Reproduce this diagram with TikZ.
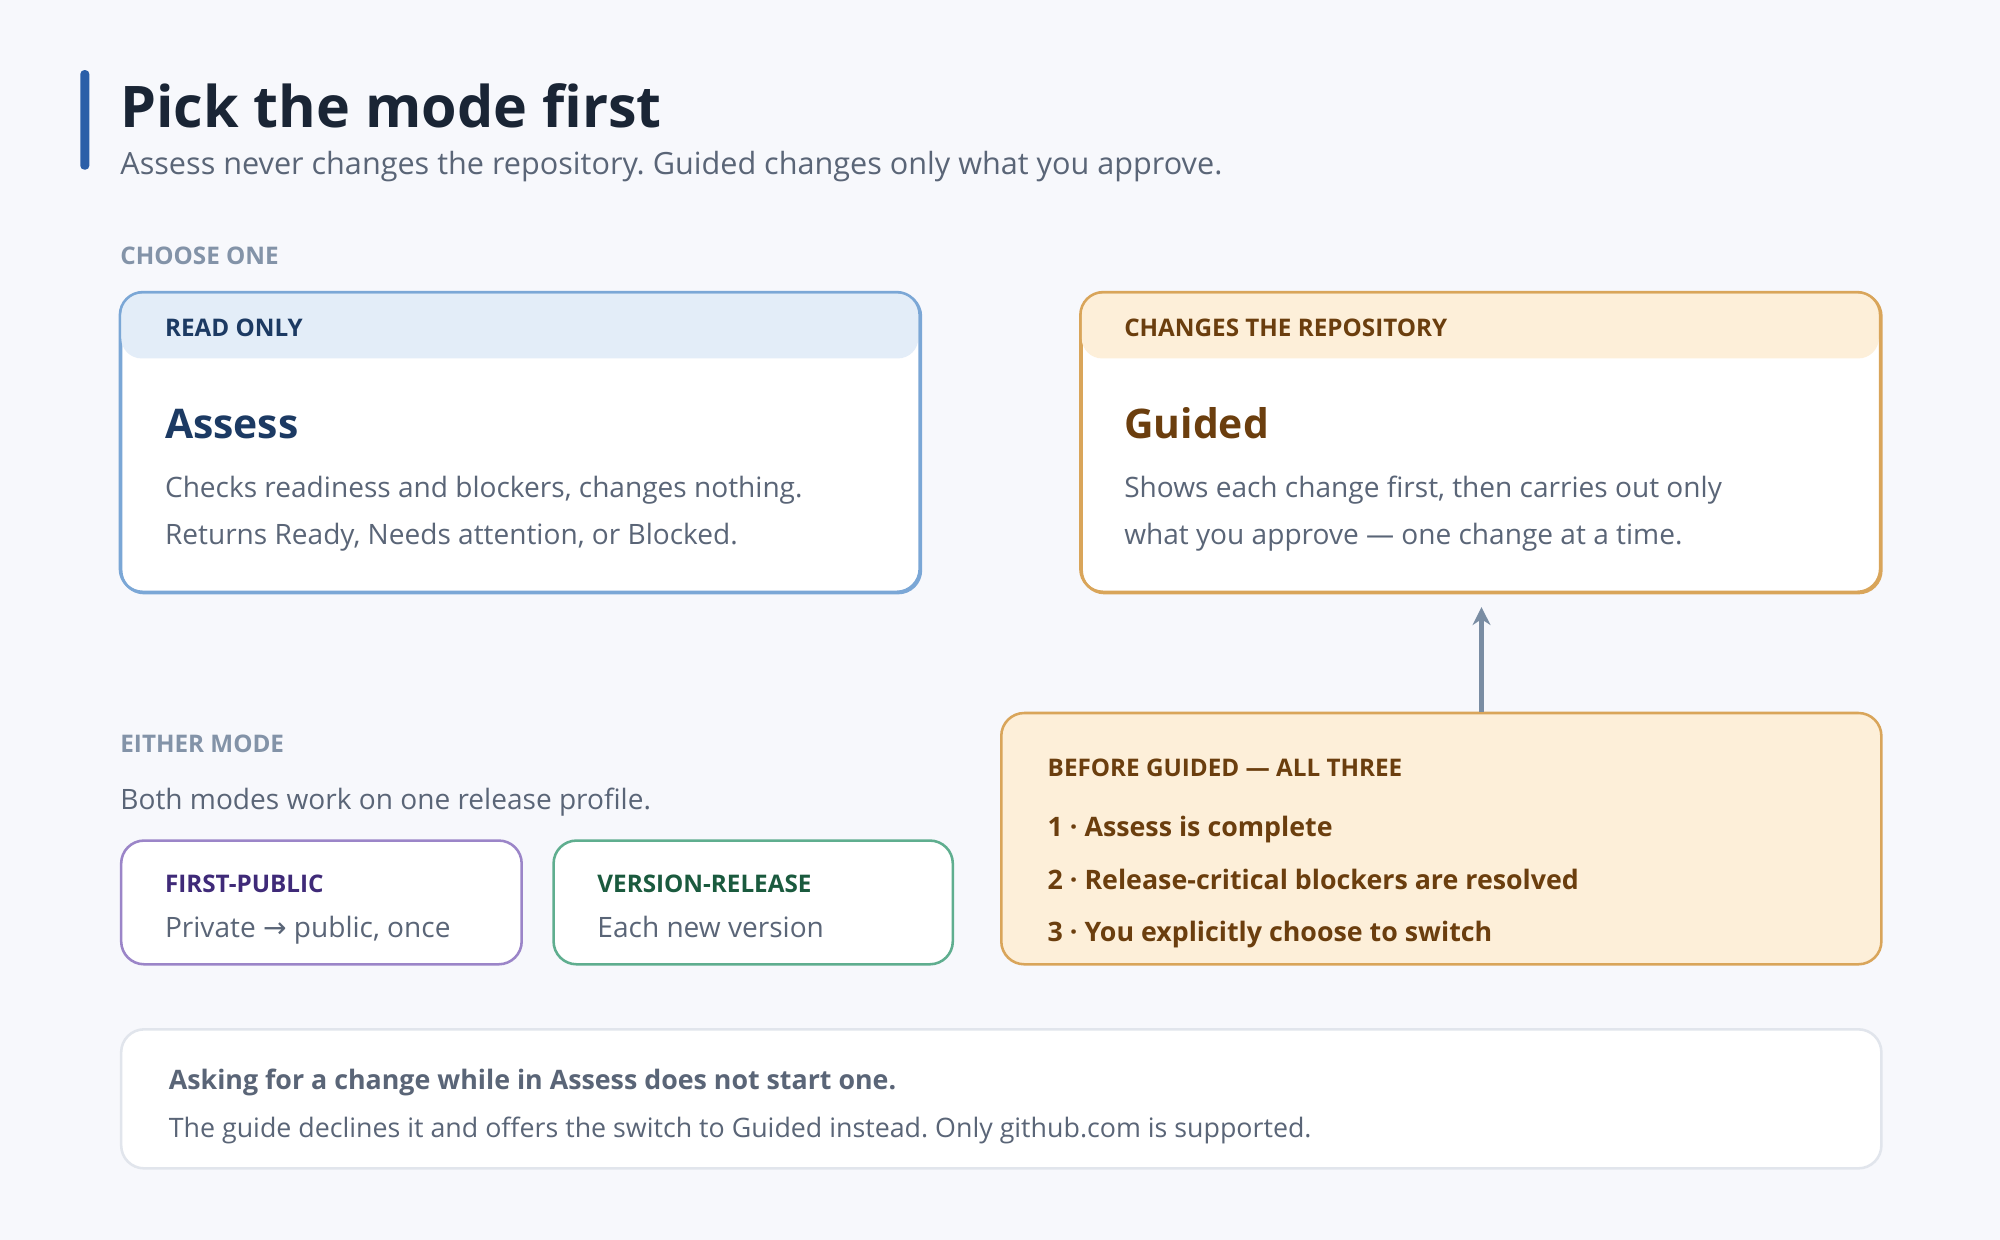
\documentclass[tikz,border=0pt]{standalone}
\usepackage{fontspec}
\setmainfont{Open Sans}
\newfontfamily\djv{DejaVu Sans}
\usetikzlibrary{arrows.meta}
\frenchspacing
\definecolor{bg}{HTML}{F7F8FC}
\definecolor{ink}{HTML}{1A2535}
\definecolor{mute}{HTML}{5A6577}
\definecolor{lab}{HTML}{8393A8}
\definecolor{bl}{HTML}{7BA7D6}
\definecolor{blh}{HTML}{E3EDF8}
\definecolor{bld}{HTML}{1C3A63}
\definecolor{or}{HTML}{D9A55A}
\definecolor{orh}{HTML}{FDEFD9}
\definecolor{ord}{HTML}{6B3E0E}
\definecolor{pu}{HTML}{9B85C8}
\definecolor{pud}{HTML}{3F2A78}
\definecolor{gr}{HTML}{5FAE8F}
\definecolor{grd}{HTML}{1A5A3E}
\definecolor{ar}{HTML}{7A8DA3}
\definecolor{acc}{HTML}{2B5FA8}
\definecolor{nb}{HTML}{E1E5EC}
\tikzset{
 box/.style={draw, line width=1pt, rounded corners=9pt, fill=white, anchor=north west, inner sep=0pt},
 t/.style={anchor=base west, inner sep=0pt},
 capt/.style={t, font=\fontsize{9.5}{11}\selectfont\bfseries},
 body/.style={t, font=\fontsize{11}{13}\selectfont, text=mute},
}
\begin{document}
\begin{tikzpicture}[x=0.5pt,y=-0.5pt]
\fill[bg] (0,0) rectangle (1568,972);
\useasboundingbox (0,0) rectangle (1568,972);
\fill[acc, rounded corners=1.5pt] (63,55) rectangle (70,133);
\node[t, font=\fontsize{22.5}{26}\selectfont\bfseries, text=ink] (title) at (94,100) {Pick the mode first};
\node[t, font=\fontsize{12}{14}\selectfont, text=mute] (sub) at (94,137) {Assess never changes the repository. Guided changes only what you approve.};
\node[capt, text=lab] (choose) at (94,207) {CHOOSE ONE};
% Assess
\node[box, draw=bl, minimum width=313.5pt, minimum height=117.5pt] (assess) at (94,229) {};
\fill[blh, rounded corners=8pt] (95,230) rectangle (720,281);
\draw[bl, line width=1pt, rounded corners=9pt] (94,229) rectangle (721,464);
\node[capt, text=bld] (ro) at (129,264) {READ ONLY};
\node[t, font=\fontsize{16}{18}\selectfont\bfseries, text=bld] (an) at (129,344) {Assess};
\node[body] (a1) at (129,390) {Checks readiness and blockers, changes nothing.};
\node[body] (a2) at (129,427) {Returns Ready, Needs attention, or Blocked.};
% Guided
\node[box, draw=or, minimum width=313.5pt, minimum height=117.5pt] (guided) at (847,229) {};
\fill[orh, rounded corners=8pt] (848,230) rectangle (1473,281);
\draw[or, line width=1pt, rounded corners=9pt] (847,229) rectangle (1474,464);
\node[capt, text=ord] (ch) at (881,264) {CHANGES THE REPOSITORY};
\node[t, font=\fontsize{16}{18}\selectfont\bfseries, text=ord] (gn) at (881,344) {Guided};
\node[body] (g1) at (881,390) {Shows each change first, then carries out only};
\node[body] (g2) at (881,427) {what you approve — one change at a time.};
% Before
\node[box, draw=or, fill=orh, minimum width=345pt, minimum height=98.5pt] (before) at (784,558) {};
\node[capt, text=ord] (bt) at (821,609) {BEFORE GUIDED — ALL THREE};
\node[t, font=\fontsize{10.5}{12}\selectfont\bfseries, text=ord] (b1) at (821,656) {1 · Assess is complete};
\node[t, font=\fontsize{10.5}{12}\selectfont\bfseries, text=ord] (b2) at (821,697) {2 · Release-critical blockers are resolved};
\node[t, font=\fontsize{10.5}{12}\selectfont\bfseries, text=ord] (b3) at (821,738) {3 · You explicitly choose to switch};
\draw[ar, line width=1.6pt, -{Stealth[length=7pt,width=7pt]}] (before.north -| guided.south) -- ([yshift=-5pt]guided.south);
% Either
\node[capt, text=lab] (either) at (94,590) {EITHER MODE};
\node[body] (both) at (94,635) {Both modes work on one release profile.};
\node[box, draw=pu, minimum width=157pt, minimum height=48.5pt] (fp) at (94,658) {};
\node[capt, text=pud] (fpt) at (129,700) {FIRST-PUBLIC};
\node[body] (fpb) at (129,735) {Private {\djv →} public, once};
\node[box, draw=gr, minimum width=156.5pt, minimum height=48.5pt] (vr) at (433,658) {};
\node[capt, text=grd] (vrt) at (468,700) {VERSION-RELEASE};
\node[body] (vrb) at (468,735) {Each new version};
% Bottom
\node[box, draw=nb, minimum width=690pt, minimum height=54.5pt] (note) at (94,806) {};
\node[t, font=\fontsize{10.5}{12}\selectfont\bfseries, text=mute] (n1) at (132,854) {Asking for a change while in Assess does not start one.};
\node[body, font=\fontsize{10.5}{12}\selectfont] (n2) at (132,892) {The guide declines it and offers the switch to Guided instead. Only github.com is supported.};
\end{tikzpicture}
\end{document}
